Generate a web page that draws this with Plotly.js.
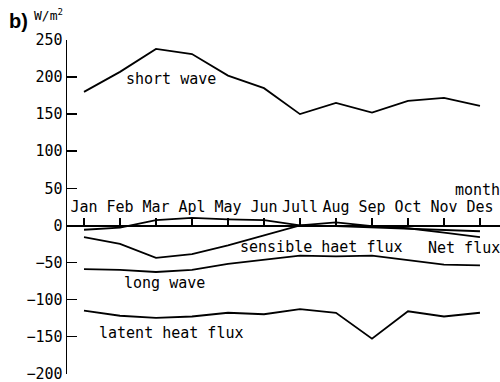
<!DOCTYPE html>
<html>
<head>
<meta charset="utf-8">
<script src="https://cdn.plot.ly/plotly-3.0.1.min.js"></script>
<style>html,body{margin:0;padding:0;background:#fff;}#chart{width:500px;height:382px;}</style>
</head>
<body>
<div id="chart"></div>
<script>
// ---- data ----
const monthIndex = [1, 2, 3, 4, 5, 6, 7, 8, 9, 10, 11, 12];
const monthLabels = ["Jan", "Feb", "Mar", "Apl", "May", "Jun", "Jull", "Aug", "Sep", "Oct", "Nov", "Des"];
const shortWave = [180, 207, 238, 231, 202, 185, 150, 165, 152, 168, 172, 161];
const longWave = [-59, -60, -63, -60, -52, -47, -41, -42, -41, -47, -53, -54];
const latentHeat = [-115, -122, -125, -123, -118, -120, -113, -118, -153, -116, -123, -118];
const sensibleHeat = [-16, -25, -44, -39, -27, -13, 0, -1, -3, -4, -6, -8];
const netFlux = [-6, -3, 7, 10, 8, 7, 0, 4, -1, -4, -10, -16];
const yTickVals = [-200, -150, -100, -50, 0, 50, 100, 150, 200, 250];

const FONT = "DejaVu Sans Mono, monospace";
const lineStyle = {color: "#000", width: 1.8};

const series = [shortWave, longWave, latentHeat, sensibleHeat, netFlux];
const names = ["short wave", "long wave", "latent heat flux", "sensible haet flux", "Net flux"];
const traces = series.map((s, i) => ({
  x: monthIndex, y: s, type: "scatter", mode: "lines",
  name: names[i], line: lineStyle, hoverinfo: "skip"
}));

const yMin = -200.6, yMax = 250;

const layout = {
  width: 500, height: 382,
  margin: {l: 67, r: 0, t: 40, b: 8, pad: 0},
  paper_bgcolor: "#fff", plot_bgcolor: "#fff",
  showlegend: false,
  font: {family: FONT, size: 15, color: "#000"},
  xaxis: {
    range: [0.528, 12.556],
    tickvals: monthIndex, ticktext: monthLabels,
    side: "top", anchor: "free", position: (0 - yMin) / (yMax - yMin),
    showline: true, linecolor: "#000", linewidth: 1.5,
    ticks: "outside", ticklen: 7, tickwidth: 1.5, tickcolor: "#000",
    showgrid: false, zeroline: false,
    tickfont: {family: FONT, size: 15, color: "#000"}
  },
  yaxis: {
    range: [yMin, yMax],
    tickvals: yTickVals,
    showline: true, linecolor: "#000", linewidth: 1.5,
    ticks: "inside", ticklen: 10, tickwidth: 1.5, tickcolor: "#000",
    showgrid: false, zeroline: false, ticklabeloverflow: "allow",
    tickfont: {family: FONT, size: 15, color: "#000"}
  },
  annotations: [
    {text: "short wave", x: 3.43, y: 197, xref: "x", yref: "y", showarrow: false},
    {text: "sensible haet flux", x: 7.61, y: -29.5, xref: "x", yref: "y", showarrow: false},
    {text: "Net flux", x: 11.56, y: -30.6, xref: "x", yref: "y", showarrow: false},
    {text: "long wave", x: 3.25, y: -78, xref: "x", yref: "y", showarrow: false},
    {text: "latent heat flux", x: 3.44, y: -145, xref: "x", yref: "y", showarrow: false},
    {text: "month", x: 11.92, y: 48, xref: "x", yref: "y", showarrow: false},
    {text: "<b>b)</b>", x: -0.113, y: 1.057, xref: "paper", yref: "paper", showarrow: false,
     xanchor: "center", yanchor: "middle",
     font: {family: "Liberation Sans, Arial, sans-serif", size: 20, color: "#000"}},
    {text: "W/m<sup>2</sup>", x: -0.042, y: 1.075, xref: "paper", yref: "paper", showarrow: false,
     xanchor: "center", yanchor: "middle",
     font: {family: FONT, size: 13, color: "#000"}}
  ]
};

Plotly.newPlot("chart", traces, layout, {displayModeBar: false, staticPlot: true});
</script>
</body>
</html>
